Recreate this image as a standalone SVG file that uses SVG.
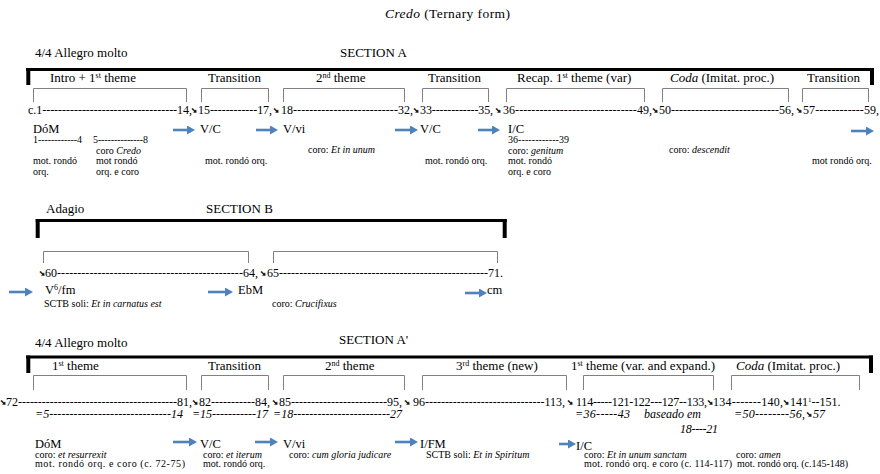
<svg xmlns="http://www.w3.org/2000/svg" width="880" height="474" viewBox="0 0 880 474">
<defs>
<style>
text{font-family:"Liberation Serif","Times New Roman",serif;fill:#000}
.h{font-size:13px}
.t{font-size:13.5px}
.n{font-size:12px}
.k{font-size:12.5px}
.s{font-size:10px}
.i{font-style:italic}
.sup{font-size:8px}
.sup1{font-size:7px}
.ar{font-family:"DejaVu Sans",sans-serif;font-size:7.5px;stroke:#000;stroke-width:0.5}
.tk{fill:none;stroke:#000;stroke-width:3}
.tv{fill:none;stroke:#000;stroke-width:4}
.thin{fill:none;stroke:#808080;stroke-width:1}
.blue{stroke:#4f81bd;stroke-width:2.6;marker-end:url(#ah)}
</style>
<marker id="ah" markerUnits="userSpaceOnUse" markerWidth="9" markerHeight="9" refX="3" refY="4.5" orient="auto">
<path d="M0,0 L8,4.5 L0,9 z" fill="#4f81bd"/>
</marker>
</defs>
<rect width="880" height="474" fill="#fff"/>
<text id="title" class="t" x="385" y="18" textLength="125"><tspan class="i">Credo</tspan> (Ternary form)</text>

<g id="section-a">
<text class="h" x="35" y="57">4/4 Allegro molto</text>
<text class="h" x="340" y="57">SECTION A</text>
<path class="tk" d="M26,69.5 H874"/>
<path class="tv" d="M28.3,68 V85 M872,68 V85"/>
<text class="h" x="50" y="82">Intro + 1<tspan class="sup" dy="-4.5">st</tspan><tspan dy="4.5"> theme</tspan></text>
<text class="h" x="208" y="82">Transition</text>
<text class="h" x="316" y="82">2<tspan class="sup" dy="-4.5">nd</tspan><tspan dy="4.5"> theme</tspan></text>
<text class="h" x="428" y="82">Transition</text>
<text class="h" x="517" y="82">Recap. 1<tspan class="sup" dy="-4.5">st</tspan><tspan dy="4.5"> theme (var)</tspan></text>
<text class="h" x="670" y="82"><tspan class="i">Coda</tspan> (Imitat. proc.)</text>
<text class="h" x="807" y="82">Transition</text>
<path class="thin" d="M33.5,102 V88.5 H186.5 V102 M201.5,102 V88.5 H268.5 V102 M283.5,102 V88.5 H404.5 V102 M422.5,102 V88.5 H488.5 V102 M506.5,102 V88.5 H644.5 V102 M662.5,102 V88.5 H788.5 V102 M802.5,102 V88.5 H868.5 V102"/>
<text class="n" x="28" y="114" textLength="164">c.1----------------------------------14,</text>
<text class="ar" x="191" y="113">➘</text>
<text class="n" x="198" y="114" textLength="74">15------------17,</text>
<text class="ar" x="273" y="113">➘</text>
<text class="n" x="281" y="114" textLength="132">18--------------------------32,</text>
<text class="ar" x="413" y="113">➘</text>
<text class="n" x="420" y="114" textLength="73">33------------35,</text>
<text class="ar" x="495" y="113">➘</text>
<text class="n" x="503" y="114" textLength="149">36------------------------------49,</text>
<text class="ar" x="652" y="113">➘</text>
<text class="n" x="659" y="114" textLength="135">50---------------------------56,</text>
<text class="ar" x="796" y="113">➘</text>
<text class="n" x="803" y="114" textLength="76">57------------59,</text>
<text class="k" x="33" y="133">DóM</text>
<text class="k" x="200" y="133">V/C</text>
<text class="k" x="283" y="133">V/vi</text>
<text class="k" x="420" y="133">V/C</text>
<text class="k" x="508" y="133">I/C</text>
<text class="s" x="33" y="143" textLength="49">1------------4</text>
<text class="s" x="93" y="143" textLength="55">5--------------8</text>
<text class="s" x="96" y="154">coro <tspan class="i">Credo</tspan></text>
<text class="s" x="33" y="164">mot. rondó</text>
<text class="s" x="33" y="175">orq.</text>
<text class="s" x="96" y="164">mot rondó</text>
<text class="s" x="96" y="175">orq. e coro</text>
<text class="s" x="205" y="164">mot. rondó orq.</text>
<text class="s" x="308" y="153">coro: <tspan class="i">Et in unum</tspan></text>
<text class="s" x="425" y="164">mot. rondó orq.</text>
<text class="s" x="508" y="143" textLength="61">36------------39</text>
<text class="s" x="508" y="154">coro: <tspan class="i">genitum</tspan></text>
<text class="s" x="508" y="164">mot. rondó</text>
<text class="s" x="508" y="175">orq. e coro</text>
<text class="s" x="669" y="153">coro: <tspan class="i">descendit</tspan></text>
<text class="s" x="812" y="164">mot rondó orq.</text>
</g>

<g id="section-b">
<text class="h" x="46" y="213">Adagio</text>
<text class="h" x="206" y="213">SECTION B</text>
<path class="tk" d="M35.7,220.5 H506.7"/>
<path class="tv" d="M37.7,219 V238 M504.7,219 V238"/>
<path class="thin" d="M43.5,263 V251.5 H248.5 V263 M273.5,263 V251.5 H497.5 V263"/>
<text class="ar" x="39" y="276">➘</text>
<text class="n" x="45" y="277" textLength="213">60----------------------------------------------64,</text>
<text class="ar" x="260" y="276">➘</text>
<text class="n" x="267" y="277" textLength="236">65----------------------------------------------------71.</text>
<text class="k" x="45" y="294">V<tspan class="sup" dy="-4.5">6</tspan><tspan dy="4.5">/fm</tspan></text>
<text class="k" x="238" y="294">EbM</text>
<text class="k" x="487" y="294">cm</text>
<text class="s" x="44" y="307">SCTB soli: <tspan class="i">Et in carnatus est</tspan></text>
<text class="s" x="272" y="307">coro: <tspan class="i">Crucifixus</tspan></text>
</g>

<g id="section-a-prime">
<text class="h" x="35" y="347">4/4 Allegro molto</text>
<text class="h" x="339" y="344">SECTION A'</text>
<path class="tk" d="M26,357 H873"/>
<path class="tv" d="M28.3,355.5 V373 M871,355.5 V373"/>
<text class="h" x="52" y="370">1<tspan class="sup" dy="-4.5">st</tspan><tspan dy="4.5"> theme</tspan></text>
<text class="h" x="208" y="370">Transition</text>
<text class="h" x="325" y="370">2<tspan class="sup" dy="-4.5">nd</tspan><tspan dy="4.5"> theme</tspan></text>
<text class="h" x="456" y="370">3<tspan class="sup" dy="-4.5">rd</tspan><tspan dy="4.5"> theme (new)</tspan></text>
<text class="h" x="571" y="370">1<tspan class="sup" dy="-4.5">st</tspan><tspan dy="4.5"> theme (var. and expand.)</tspan></text>
<text class="h" x="736" y="370"><tspan class="i">Coda</tspan> (Imitat. proc.)</text>
<path class="thin" d="M33.5,390 V375.5 H186.5 V390 M201.5,390 V375.5 H268.5 V390 M283.5,390 V375.5 H404.5 V390 M422.5,390 V375.5 H566.5 V390 M583.5,390 V375.5 H713.5 V390 M731.5,390 V375.5 H859.5 V390"/>
<text class="ar" x="0" y="405">➘</text>
<text class="n" x="6" y="406" textLength="186">72----------------------------------------81,</text>
<text class="ar" x="192" y="405">➘</text>
<text class="n" x="199" y="406" textLength="71">82-----------84,</text>
<text class="ar" x="272" y="405">➘</text>
<text class="n" x="279" y="406" textLength="123">85------------------------95,</text>
<text class="ar" x="404" y="405">➘</text>
<text class="n" x="413" y="406" textLength="152">96------------------------------113,</text>
<text class="ar" x="567" y="405">➘</text>
<text class="n" x="576" y="406" textLength="131">114-----121-122---127--133,</text>
<text class="ar" x="707" y="405">➘</text>
<text class="n" x="713" y="406" textLength="70">134-------140,</text>
<text class="ar" x="783" y="405">➘</text>
<text class="n" x="790" y="406">141<tspan class="sup1" dy="-4">1</tspan><tspan dy="4">--151.</tspan></text>
<text class="n i" x="35" y="418" textLength="148">=5------------------------------14</text>
<text class="n i" x="192" y="418" textLength="76">=15-----------17</text>
<text class="n i" x="273" y="418" textLength="129">=18------------------------27</text>
<text class="n i" x="575" y="418" textLength="55">=36-----43</text>
<text class="n i" x="644" y="418">baseado em</text>
<text class="n i" x="680" y="433" textLength="38">18----21</text>
<text class="n i" x="734" y="418" textLength="71">=50--------56,</text>
<text class="ar" x="806" y="417">➘</text>
<text class="n i" x="813" y="418">57</text>
<text class="k" x="35" y="448">DóM</text>
<text class="k" x="200" y="448">V/C</text>
<text class="k" x="283" y="448">V/vi</text>
<text class="k" x="420" y="448">I/FM</text>
<text class="k" x="576" y="450">I/C</text>
<text class="s" x="35" y="458">coro: <tspan class="i">et resurrexit</tspan></text>
<text class="s" x="35" y="467" textLength="150">mot. rondó orq. e coro (c. 72-75)</text>
<text class="s" x="203" y="458">coro:  <tspan class="i">et iterum</tspan></text>
<text class="s" x="203" y="467">mot. rondó orq.</text>
<text class="s" x="289" y="458">coro: <tspan class="i">cum gloria  judicare</tspan></text>
<text class="s" x="426" y="458">SCTB soli: <tspan class="i">Et in Spiritum</tspan></text>
<text class="s" x="584" y="458">coro: <tspan class="i">Et in unum sanctam</tspan></text>
<text class="s" x="584" y="467" textLength="148">mot. rondó orq. e coro (c. 114-117)</text>
<text class="s" x="736" y="458">coro: <tspan class="i">amen</tspan></text>
<text class="s" x="737" y="467" textLength="111">mot. rondó orq.  (c.145-148)</text>
</g>

<g id="connectors">
<line class="blue" x1="173" y1="130" x2="190" y2="130"/>
<line class="blue" x1="256" y1="130" x2="273" y2="130"/>
<line class="blue" x1="395" y1="130" x2="413" y2="130"/>
<line class="blue" x1="478" y1="130" x2="495" y2="130"/>
<line class="blue" x1="851" y1="131" x2="869" y2="131"/>
<line class="blue" x1="9" y1="292" x2="28" y2="292"/>
<line class="blue" x1="208" y1="292" x2="228" y2="292"/>
<line class="blue" x1="465" y1="293" x2="482" y2="293"/>
<line class="blue" x1="173" y1="442" x2="192" y2="442"/>
<line class="blue" x1="255" y1="442" x2="273" y2="442"/>
<line class="blue" x1="395" y1="442" x2="413" y2="442"/>
<line class="blue" x1="559" y1="444" x2="571" y2="444"/>
</g>
</svg>
